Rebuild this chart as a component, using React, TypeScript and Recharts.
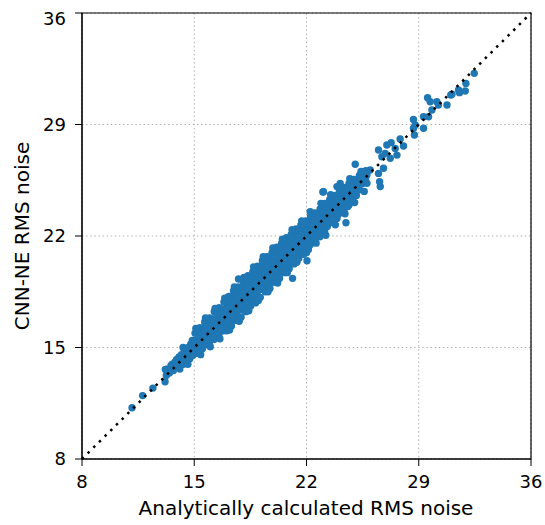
import React from "react"
import {
  ScatterChart,
  Scatter,
  XAxis,
  YAxis,
  CartesianGrid,
  ReferenceArea,
  Label,
} from "recharts"

type Pt = [number, number]

// x = analytically calculated RMS noise, y = CNN-NE estimate
const lowTail: Pt[] = [
  [11.12, 11.22], [11.78, 11.98], [12.42, 12.45], [13.18, 12.85], [13.2, 13.62], [13.26, 13.25],
]

const bandStart: Pt[] = [
  [13.3, 13.63], [13.45, 13.4], [13.55, 13.85], [13.62, 13.95], [13.7, 13.55], [13.8, 14.1],
  [13.9, 14.25], [13.95, 13.8], [14.05, 14.4], [14.1, 13.65], [14.15, 14.05], [14.2, 14.55],
  [14.25, 14.2], [14.32, 13.95], [14.38, 14.7], [14.42, 14.35], [14.5, 14.85], [14.55, 14.5],
  [14.58, 14.15], [14.62, 15.0], [14.7, 14.6], [14.72, 14.3], [14.78, 15.2], [14.82, 14.85],
  [14.88, 15.45], [14.9, 14.5], [14.95, 15.1], [15.0, 14.7],
]

const band15to17: Pt[] = [
  [15.05, 15.9], [15.04, 15.45], [15.06, 15.05], [15.03, 14.6],
  [15.2, 15.85], [15.19, 15.4], [15.21, 15.0], [15.2, 14.65],
  [15.35, 16.25], [15.34, 15.8], [15.36, 15.4], [15.35, 15.0],
  [15.5, 16.2], [15.49, 15.75], [15.51, 15.35], [15.5, 14.9],
  [15.65, 16.6], [15.64, 16.15], [15.66, 15.75], [15.65, 15.3],
  [15.8, 16.55], [15.79, 16.1], [15.81, 15.7], [15.8, 15.25],
  [15.95, 16.85], [15.94, 16.4], [15.96, 15.95], [15.95, 15.55], [15.93, 15.25],
  [16.1, 16.8], [16.09, 16.35], [16.11, 15.9], [16.1, 15.5],
  [16.25, 17.25], [16.24, 16.8], [16.26, 16.35], [16.25, 15.9], [16.23, 15.5],
  [16.4, 17.2], [16.39, 16.75], [16.41, 16.3], [16.4, 15.85],
  [16.55, 17.5], [16.54, 17.05], [16.56, 16.6], [16.55, 16.15], [16.53, 15.75],
  [16.7, 17.4], [16.69, 16.95], [16.71, 16.5], [16.7, 16.05],
  [16.85, 17.85], [16.84, 17.4], [16.86, 16.95], [16.85, 16.5], [16.83, 16.05],
]

const band17to20: Pt[] = [
  [17.0, 17.8], [17.01, 17.35], [16.99, 16.9], [17.0, 16.45], [17.02, 16.05],
  [17.15, 18.2], [17.14, 17.75], [17.16, 17.3], [17.15, 16.85], [17.13, 16.4],
  [17.3, 18.15], [17.29, 17.7], [17.31, 17.25], [17.3, 16.8], [17.32, 16.35],
  [17.45, 18.55], [17.44, 18.1], [17.46, 17.65], [17.45, 17.2], [17.43, 16.75],
  [17.6, 18.5], [17.59, 18.05], [17.61, 17.6], [17.6, 17.15], [17.62, 16.7],
  [17.75, 18.8], [17.74, 18.35], [17.76, 17.9], [17.75, 17.45], [17.73, 16.95],
  [17.9, 18.75], [17.89, 18.3], [17.91, 17.85], [17.9, 17.4], [17.92, 16.9],
  [18.05, 19.15], [18.04, 18.7], [18.06, 18.25], [18.05, 17.8], [18.03, 17.35],
  [18.2, 19.1], [18.19, 18.65], [18.21, 18.2], [18.2, 17.75], [18.22, 17.25],
  [18.35, 19.5], [18.34, 19.05], [18.36, 18.6], [18.35, 18.15], [18.33, 17.7],
  [18.5, 19.45], [18.49, 19.0], [18.51, 18.55], [18.5, 18.1], [18.52, 17.6],
  [18.65, 19.75], [18.64, 19.3], [18.66, 18.85], [18.65, 18.4], [18.63, 17.9],
  [18.8, 19.7], [18.79, 19.25], [18.81, 18.8], [18.8, 18.3], [18.82, 17.8],
  [18.95, 20.1], [18.94, 19.65], [18.96, 19.2], [18.95, 18.75], [18.93, 18.3],
  [19.1, 20.05], [19.09, 19.6], [19.11, 19.15], [19.1, 18.65], [19.12, 18.15],
  [19.25, 20.45], [19.24, 20.0], [19.26, 19.55], [19.25, 19.1], [19.23, 18.65],
  [19.4, 20.4], [19.39, 19.95], [19.41, 19.5], [19.4, 19.0], [19.42, 18.5],
  [19.55, 20.7], [19.54, 20.25], [19.56, 19.8], [19.55, 19.35], [19.53, 18.85],
  [19.7, 20.65], [19.69, 20.2], [19.71, 19.75], [19.7, 19.25], [19.72, 18.7],
  [19.85, 20.95], [19.84, 20.5], [19.86, 20.05], [19.85, 19.6], [19.83, 19.1],
]

const band20to23: Pt[] = [
  [20.0, 20.95], [19.99, 20.5], [20.01, 20.05], [20.0, 19.6], [20.02, 19.1],
  [20.15, 21.3], [20.14, 20.85], [20.16, 20.4], [20.15, 19.95], [20.13, 19.5],
  [20.3, 21.2], [20.29, 20.75], [20.31, 20.3], [20.3, 19.85], [20.32, 19.35],
  [20.45, 21.55], [20.44, 21.1], [20.46, 20.65], [20.45, 20.2], [20.43, 19.75],
  [20.6, 21.55], [20.59, 21.1], [20.61, 20.65], [20.6, 20.2], [20.62, 19.7],
  [20.75, 21.9], [20.74, 21.45], [20.76, 21.0], [20.75, 20.55], [20.73, 20.1],
  [20.9, 21.8], [20.89, 21.35], [20.91, 20.9], [20.9, 20.45], [20.92, 19.95],
  [21.05, 22.1], [21.04, 21.65], [21.06, 21.2], [21.05, 20.75], [21.03, 20.3],
  [21.2, 22.05], [21.19, 21.6], [21.21, 21.15], [21.2, 20.7], [21.22, 20.25],
  [21.35, 22.45], [21.34, 22.0], [21.36, 21.55], [21.35, 21.1], [21.33, 20.65],
  [21.5, 22.4], [21.49, 21.95], [21.51, 21.5], [21.5, 21.05], [21.52, 20.6],
  [21.65, 22.7], [21.64, 22.25], [21.66, 21.8], [21.65, 21.35], [21.63, 20.9],
  [21.8, 22.65], [21.79, 22.2], [21.81, 21.75], [21.8, 21.3], [21.82, 20.85],
  [21.95, 22.95], [21.94, 22.5], [21.96, 22.05], [21.95, 21.6], [21.93, 21.15],
  [22.1, 22.9], [22.09, 22.45], [22.11, 22.0], [22.1, 21.55], [22.12, 21.15],
  [22.25, 23.2], [22.24, 22.75], [22.26, 22.3], [22.25, 21.85], [22.23, 21.45],
  [22.4, 23.15], [22.39, 22.7], [22.41, 22.25], [22.4, 21.8],
  [22.55, 23.45], [22.54, 23.0], [22.56, 22.55], [22.55, 22.1], [22.53, 21.7],
  [22.7, 23.4], [22.69, 22.95], [22.71, 22.5], [22.7, 22.1],
  [22.85, 23.7], [22.84, 23.25], [22.86, 22.8], [22.85, 22.35], [22.83, 21.95],
]

const band23to26: Pt[] = [
  [23.0, 23.7], [22.99, 23.25], [23.01, 22.8], [23.0, 22.35],
  [23.15, 24.05], [23.14, 23.6], [23.16, 23.15], [23.15, 22.7], [23.13, 22.3],
  [23.3, 23.95], [23.29, 23.5], [23.31, 23.05], [23.3, 22.6],
  [23.45, 24.3], [23.44, 23.85], [23.46, 23.4], [23.45, 22.95],
  [23.6, 24.2], [23.59, 23.75], [23.61, 23.3], [23.6, 22.85],
  [23.75, 24.55], [23.74, 24.1], [23.76, 23.65], [23.75, 23.2],
  [23.9, 24.45], [23.89, 24.0], [23.91, 23.55], [23.9, 23.1],
  [24.05, 24.8], [24.04, 24.35], [24.06, 23.9], [24.05, 23.45],
  [24.2, 24.7], [24.19, 24.25], [24.21, 23.8],
  [24.35, 25.05], [24.34, 24.6], [24.36, 24.15], [24.35, 23.7],
  [24.5, 24.95], [24.49, 24.5], [24.51, 24.05],
  [24.65, 25.3], [24.64, 24.85], [24.66, 24.4], [24.65, 23.95],
  [24.8, 25.2], [24.79, 24.75], [24.81, 24.3],
  [24.95, 25.55], [24.94, 25.1], [24.96, 24.65],
  [25.1, 25.45], [25.09, 25.0], [25.11, 24.55],
  [25.3, 25.8], [25.29, 25.35], [25.31, 24.9],
  [25.5, 25.75], [25.49, 25.3],
  [25.7, 26.1], [25.69, 25.6],
]

// ragged edges of the ribbon
const bandEdges: Pt[] = [
  [14.3, 15.0], [14.6, 13.95], [15.1, 16.2], [15.4, 14.55], [15.7, 16.85], [16.0, 15.05],
  [16.3, 17.45], [16.6, 15.55], [16.9, 18.1], [17.2, 16.1], [17.5, 18.8], [17.8, 16.65],
  [18.1, 19.4], [18.4, 17.3], [18.7, 20.05], [19.0, 17.95], [19.3, 20.7], [19.6, 18.5],
  [19.9, 21.25], [20.2, 19.05], [20.5, 21.8], [20.8, 19.7], [21.1, 22.4], [21.4, 20.35],
  [21.7, 22.95], [22.0, 20.95], [22.3, 23.45], [22.6, 21.55], [22.9, 24.05], [23.2, 22.05],
  [23.5, 24.6], [23.8, 22.7], [24.1, 25.1], [24.4, 23.4], [24.7, 25.6], [25.0, 24.1],
  [25.4, 26.05], [25.6, 24.8],
]

// interior fill
const bandFill: Pt[] = [
  [15.12, 15.25], [15.42, 15.6], [15.72, 15.95], [16.02, 16.2], [16.32, 16.55], [16.62, 16.85],
  [16.92, 17.2], [17.22, 17.5], [17.52, 17.9], [17.82, 18.1], [18.12, 18.45], [18.42, 18.8],
  [18.72, 19.05], [19.02, 19.45], [19.32, 19.75], [19.62, 20.0], [19.92, 20.3], [20.22, 20.6],
  [20.52, 20.95], [20.82, 21.2], [21.12, 21.45], [21.42, 21.8], [21.72, 22.05], [22.02, 22.3],
  [22.32, 22.6], [22.62, 22.8], [22.92, 23.05], [23.22, 23.35], [23.52, 23.6], [23.82, 23.85],
  [24.12, 24.1], [24.42, 24.35],
  [15.28, 14.85], [15.58, 15.1], [15.88, 15.45], [16.18, 15.7], [16.48, 16.0], [16.78, 16.25],
  [17.08, 16.65], [17.38, 16.95], [17.68, 17.3], [17.98, 17.6], [18.28, 17.95], [18.58, 18.2],
  [18.88, 18.55], [19.18, 18.85], [19.48, 19.2], [19.78, 19.45], [20.08, 19.8], [20.38, 20.05],
  [20.68, 20.4], [20.98, 20.6], [21.28, 20.95], [21.58, 21.25], [21.88, 21.5], [22.18, 21.75],
  [22.48, 22.0], [22.78, 22.25], [23.08, 22.55], [23.38, 22.85], [23.68, 23.1], [23.98, 23.35],
  [24.28, 23.6], [24.58, 23.85],
]

const outliers: Pt[] = [
  [17.76, 19.3], [21.13, 19.34], [22.03, 20.45], [24.46, 22.83], [22.23, 23.52],
  [23.02, 24.76], [25.04, 26.5], [24.1, 25.3], [23.9, 25.1], [23.06, 24.78], [25.77, 25.31],
]

const upperTail: Pt[] = [
  [26.6, 25.1], [26.56, 25.41], [26.49, 25.93], [25.97, 26.14], [25.77, 25.83], [25.46, 25.51],
  [26.8, 26.25], [26.7, 26.98], [26.49, 27.4], [26.91, 27.19], [27.22, 26.88], [27.01, 27.71],
  [27.28, 27.86], [27.53, 27.5], [27.64, 27.08], [28.05, 27.65], [27.84, 28.09], [28.73, 28.34],
  [28.67, 28.76], [29.3, 28.76], [28.78, 28.97], [28.67, 29.32], [29.3, 29.49], [29.61, 29.49],
  [29.82, 29.91], [30.23, 30.22], [30.13, 30.43], [29.71, 30.43], [29.55, 30.68], [30.76, 30.22],
  [31.0, 30.85], [31.07, 30.9], [31.48, 31.17], [31.54, 31.0], [31.9, 31.1], [31.94, 31.58],
  [32.46, 32.21],
]

// y = x identity line end points
const identity = [{ x: 8, y: 8 }, { x: 36, y: 36 }]

const ticks = [8, 15, 22, 29, 36]

const points = [
  ...lowTail, ...bandStart, ...band15to17, ...band17to20, ...band20to23,
  ...band23to26, ...bandEdges, ...bandFill, ...outliers, ...upperTail,
].map(([x, y]) => ({ x, y }))

const font = "'DejaVu Sans', sans-serif"

const Dot = (props: any) => <circle cx={props.cx} cy={props.cy} r={3.7} fill="#1f77b4" />
const NoDot = () => <g />

export default function App() {
  return (
    <div style={{ position: "absolute", top: 8, left: 8, width: 537, height: 517, fontFamily: font }}>
      <ScatterChart width={537} height={517} margin={{ top: 5, right: 14, bottom: 0, left: 0 }}>
        <CartesianGrid stroke="#b0b0b0" strokeDasharray="1.5 2.6" />
        <XAxis
          type="number"
          dataKey="x"
          domain={[8, 36]}
          ticks={ticks}
          height={66}
          tickSize={7}
          tickMargin={9}
          stroke="#000"
          tick={{ fill: "#000", fontSize: 18, fontFamily: font }}
        >
          <Label
            content={() => (
              <text x={298} y={507} textAnchor="middle" fontSize={20} fontFamily={font} fill="#000">
                Analytically calculated RMS noise
              </text>
            )}
          />
        </XAxis>
        <YAxis
          type="number"
          dataKey="y"
          domain={[8, 36]}
          ticks={ticks}
          width={74}
          tickSize={7}
          tickMargin={9}
          stroke="#000"
          tick={{ fill: "#000", fontSize: 18, fontFamily: font }}
        >
          <Label
            content={() => (
              <text
                x={21}
                y={228}
                transform="rotate(-90, 21, 228)"
                textAnchor="middle"
                fontSize={20}
                fontFamily={font}
                fill="#000"
              >
                CNN-NE RMS noise
              </text>
            )}
          />
        </YAxis>
        <Scatter data={points} shape={Dot} isAnimationActive={false} />
        <Scatter
          data={identity}
          shape={NoDot}
          line={{ stroke: "#000", strokeWidth: 2.5, strokeDasharray: "2.5 5.5" }}
          isAnimationActive={false}
        />
        <ReferenceArea x1={8} x2={36} y1={8} y2={36} fill="none" stroke="#000" strokeWidth={1.2} fillOpacity={0} />
      </ScatterChart>
    </div>
  )
}
